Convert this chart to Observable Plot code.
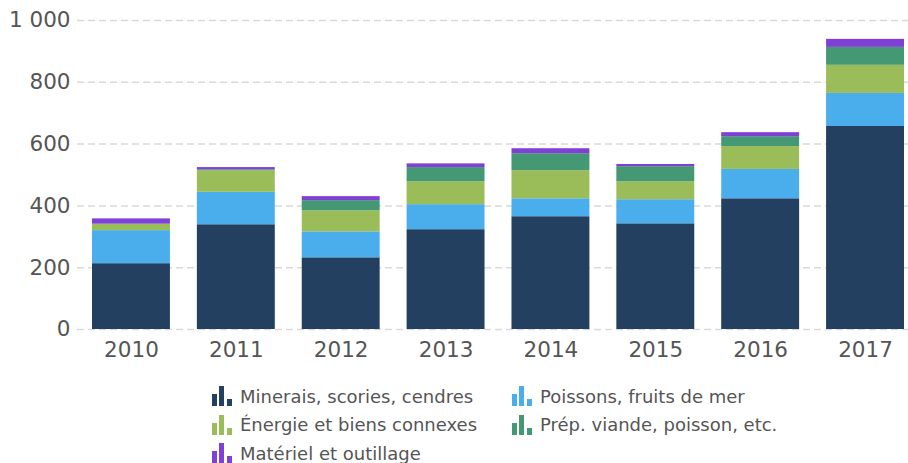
<!DOCTYPE html>
<html>
<head>
<meta charset="utf-8">
<script src="https://cdn.jsdelivr.net/npm/d3@7"></script>
<script src="https://cdn.jsdelivr.net/npm/@observablehq/plot@0.6"></script>
<style>
  html, body { margin: 0; padding: 0; background: #fff; overflow: hidden; }
  body { width: 908px; height: 463px; font-family: "DejaVu Sans", Verdana, sans-serif; }
  #legend { display: grid; grid-template-columns: 300px 300px; padding-left: 212px; margin-top: 2px; }
  .item { display: flex; align-items: center; height: 28.5px; font-size: 18px; color: #555; white-space: nowrap; }
  .item svg { flex: none; width: 20px; height: 20px; margin-right: 8px; }
</style>
</head>
<body>
<div id="chart"></div>
<div id="legend"></div>
<script>
const years = ["2010", "2011", "2012", "2013", "2014", "2015", "2016", "2017"];
const seriesNames = ["Minerais, scories, cendres", "Poissons, fruits de mer", "Énergie et biens connexes", "Prép. viande, poisson, etc.", "Matériel et outillage"];
const minerais = [213, 339, 232, 323, 365, 342, 423, 657];
const poissons = [107, 105, 84, 81, 58, 78, 95, 107];
const energie  = [20, 70, 68, 74, 91, 58, 74, 91];
const prep     = [1, 3, 33, 46, 55, 49, 32, 58];
const materiel = [17, 7, 13, 12, 16, 7, 13, 26];
const yTicks = [0, 200, 400, 600, 800, 1000];
const colors = ["#234060", "#49aeeb", "#9bbd59", "#449873", "#803fd5"];

const seriesValues = [minerais, poissons, energie, prep, materiel];
const data = seriesNames.flatMap((s, i) => years.map((yr, j) => ({year: yr, series: s, value: seriesValues[i][j]})));

const fmt = d => d3.format(",")(d).replace(/,/g, " ");

const chart = Plot.plot({
  width: 908,
  height: 380,
  marginLeft: 77,
  marginRight: 0,
  marginTop: 20,
  marginBottom: 51,
  style: {fontFamily: "DejaVu Sans, Verdana, sans-serif", color: "#555", background: "#fff"},
  x: {domain: years, range: [92, 904], paddingInner: 0.257, paddingOuter: 0, round: false, label: null},
  y: {domain: [0, 1000], label: null},
  color: {domain: seriesNames, range: colors},
  marks: [
    Plot.ruleY(yTicks, {stroke: "#d9d9d9", strokeWidth: 1.5, strokeDasharray: "7,4"}),
    Plot.barY(data, {x: "year", y: "value", fill: "series", order: seriesNames, inset: 0}),
    Plot.axisY(yTicks, {tickSize: 0, tickPadding: 7, fontSize: 21.5, tickFormat: fmt, label: null}),
    Plot.axisX({tickSize: 0, tickPadding: 12, fontSize: 21.5, label: null})
  ]
});
document.getElementById("chart").appendChild(chart);

const legend = document.getElementById("legend");
seriesNames.forEach((s, i) => {
  const item = document.createElement("div");
  item.className = "item";
  item.innerHTML = `<svg width="20" height="20" viewBox="0 0 20 20">
    <rect x="0" y="8" width="5" height="12" fill="${colors[i]}"/>
    <rect x="7" y="0" width="5" height="20" fill="${colors[i]}"/>
    <rect x="15" y="13" width="5" height="7" fill="${colors[i]}"/>
  </svg><span>${s}</span>`;
  legend.appendChild(item);
});
</script>
</body>
</html>
